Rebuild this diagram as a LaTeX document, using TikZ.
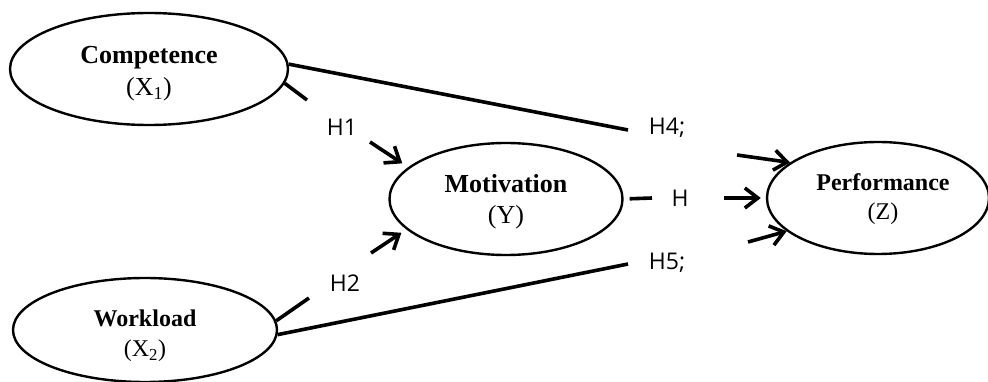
\documentclass[tikz,border=0pt]{standalone}
\usepackage{fontspec}
\setmainfont{Liberation Serif}
\newfontfamily\hfont{Open Sans}
\usetikzlibrary{arrows.meta,shapes.geometric,positioning,calc}
\tikzset{
  construct/.style = {ellipse, draw, line width = 2.4pt, inner sep = 0pt},
  conlabel/.style = {align = center, inner sep = 0pt},
  hyp/.style = {font = \hfont\fontsize{23}{26}\selectfont, inner sep = 0pt},
  link/.style = {line width = 3.6pt},
  path/.style = {line width = 3.6pt, -{Straight Barb[length=13pt, width=20pt, line width=3.6pt]}}
}
\begin{document}
\begin{tikzpicture}[x = 1pt, y = -1pt]
    \useasboundingbox (0,0) rectangle (988,382);
    \node[construct, minimum width = 278pt, minimum height = 112pt] (comp) at (149,69) {};
    \node[construct, minimum width = 233pt, minimum height = 112pt] (motiv) at (506,199) {};
    \node[construct, minimum width = 222pt, minimum height = 112pt] (perf) at (878,198) {};
    \node[construct, minimum width = 264pt, minimum height = 104pt] (workl) at (145,330) {};
    %%%%%%%%%%
    \node[conlabel, font = \fontsize{26}{32}\selectfont] (comptext) at (149,74) {\textbf{Competence}\\(X\textsubscript{1})};
    \node[conlabel, font = \fontsize{26}{31}\selectfont] (motivtext) at (506,202) {\textbf{Motivation}\\(Y)};
    \node[conlabel, font = \fontsize{24}{29}\selectfont] (perftext) at (883,199) {\textbf{Performance}\\(Z)};
    \node[conlabel, font = \fontsize{24}{30}\selectfont] (workltext) at (145,336) {\textbf{Workload}\\(X\textsubscript{2})};
    %%%%%%%%%%
    \node[hyp] (hone) at (342,127) {H1};
    \node[hyp] (htwo) at (345,283) {H2};
    \node[hyp] (hfour) at (667,128) {H4;};
    \node[hyp] (hfive) at (667,263) {H5;};
    \node[hyp] (hthree) at (680,198) {H};
    %%%%%%%%%%
    \coordinate (honestub) at (307,100);
    \coordinate (honetail) at (370,142);
    \coordinate (htwostub) at (309,298);
    \coordinate (htwotail) at (371,253);
    \coordinate (hfourend) at (628,130);
    \coordinate (hfiveend) at (628,264);
    \coordinate (hthreestub) at (652,198);
    \coordinate (hthreetail) at (724,198);
    \coordinate (hfourtail) at (737,155);
    \coordinate (hfivetail) at (748,242);
    %%%%%%%%%%
    \draw[link] (comp.-6) -- (honestub);
    \draw[link] (comp.2) -- (hfourend);
    \draw[link] (workl.4) -- (htwostub);
    \draw[link] (workl.-2) -- (hfiveend);
    \draw[link, shorten <= 6pt] (motiv.east) -- (hthreestub);
    \draw[path, shorten >= 7pt] (honetail) -- (motiv.162);
    \draw[path, shorten >= 6pt] (htwotail) -- (motiv.197);
    \draw[path, shorten >= 5pt] (hthreetail) -- (perf.west);
    \draw[path] (hfourtail) -- (perf.158);
    \draw[path] (hfivetail) -- (perf.200);
\end{tikzpicture}
\end{document}
